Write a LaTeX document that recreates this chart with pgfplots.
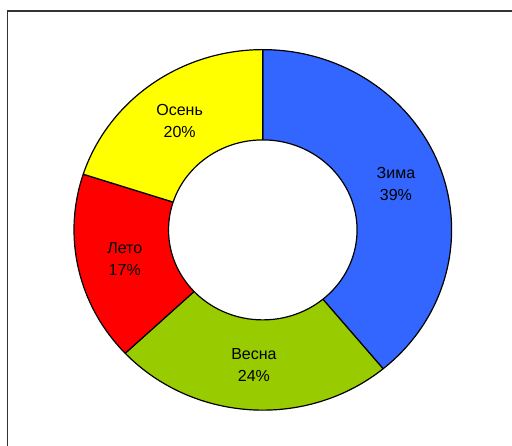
\documentclass[border=0pt]{standalone}
\usepackage{fontspec}
\setmainfont{Liberation Sans}
\usepackage{pgfplots}
\usepackage{pgfplotstable}
\pgfplotsset{compat=1.18}
\usetikzlibrary{calc}
\definecolor{zima}{HTML}{3366FF}
\definecolor{vesna}{HTML}{99CC00}
\definecolor{leto}{HTML}{FF0000}
\definecolor{osen}{HTML}{FFFF00}
\pgfplotstableread[col sep=comma]{
name,value,color
Зима,39,zima
Весна,24,vesna
Лето,17,leto
Осень,20,osen
}\piedata
\tikzset{lbl/.style={align=center,font=\fontsize{12}{16.4}\selectfont,text=black}}
\def\Rx{141.6}\def\Ry{135.2}
\def\rx{70.7}\def\ry{67.5}
\def\Lx{106.1}\def\Ly{101.3}
\begin{document}
\begin{tikzpicture}
\useasboundingbox (0,0) rectangle (384pt,334.5pt);
\begin{axis}[
  at={(0,0)}, anchor=south west,
  scale only axis, width=384pt, height=334.5pt,
  xmin=0, xmax=512, ymin=0, ymax=446,
  axis lines=none, clip=true,
]
\draw[line width=0.9pt, color=black!80] (axis cs:7.5,-20) -- (axis cs:7.5,435) -- (axis cs:530,435);
\def\curang{90}
\pgfplotsforeachungrouped \i in {0,1,2,3}{%
  \pgfplotstablegetelem{\i}{value}\of\piedata \let\val\pgfplotsretval
  \pgfplotstablegetelem{\i}{name}\of\piedata \let\nm\pgfplotsretval
  \pgfplotstablegetelem{\i}{color}\of\piedata \let\col\pgfplotsretval
  \pgfmathsetmacro\endang{\curang-3.6*\val}
  \pgfmathsetmacro\midang{(\curang+\endang)/2}
  \edef\temp{\noexpand\filldraw[fill=\col, draw=black, line width=0.9pt, line join=round]
    (axis cs:262.8,216.1) -- ++(\curang:\Rx pt and \Ry pt)
    arc[start angle=\curang, end angle=\endang, x radius=\Rx pt, y radius=\Ry pt] -- cycle;}%
  \temp
  \let\curang\endang
}
\filldraw[fill=white, draw=black, line width=0.9pt] (axis cs:262.8,216.1) ellipse[x radius=\rx pt, y radius=\ry pt];
\def\curang{90}
\pgfplotsforeachungrouped \i in {0,1,2,3}{%
  \pgfplotstablegetelem{\i}{value}\of\piedata \let\val\pgfplotsretval
  \pgfplotstablegetelem{\i}{name}\of\piedata \let\nm\pgfplotsretval
  \pgfmathsetmacro\endang{\curang-3.6*\val}
  \pgfmathsetmacro\midang{(\curang+\endang)/2}
  \edef\temp{\noexpand\node[lbl] at ($(axis cs:262.8,216.1)+(\midang:\Lx pt and \Ly pt)$) {\nm\noexpand\\\val\noexpand\%};}%
  \temp
  \let\curang\endang
}
\end{axis}
\end{tikzpicture}
\end{document}
